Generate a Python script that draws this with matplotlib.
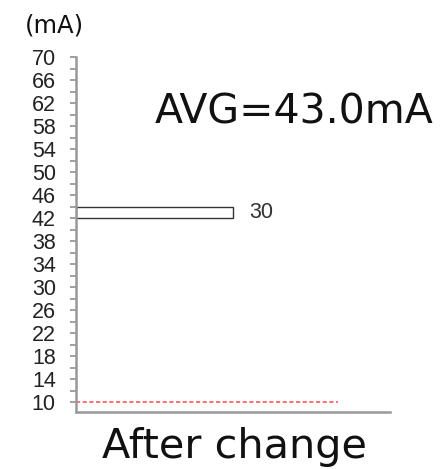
import matplotlib

matplotlib.use("Agg")

import matplotlib.pyplot as plt
from matplotlib.ticker import MultipleLocator

# histogram of current readings after the change
BIN_LOW = [42]
BIN_HIGH = [44]
COUNTS = [30]
LIMIT_MA = 10
LIMIT_SPAN = (0, 50)
AVG_TEXT = "AVG=43.0mA"
UNIT_TEXT = "(mA)"
CAPTION = "After change"

W, H = 441, 469
NARROW = ["Liberation Sans Narrow", "Liberation Sans", "DejaVu Sans"]

fig = plt.figure(figsize=(W / 100, H / 100), dpi=100)
fig.patch.set_facecolor("white")
ax = fig.add_axes([76 / W, 1 - 412 / H, (390 - 76) / W, (412 - 57) / H])

for lo, hi, n in zip(BIN_LOW, BIN_HIGH, COUNTS):
    ax.barh((lo + hi) / 2, n, height=hi - lo, left=0, facecolor="white",
            edgecolor="#333333", linewidth=1.0)
    ax.annotate(str(n), xy=(n, (lo + hi) / 2), xytext=(12, 0), textcoords="offset points",
                ha="left", va="center", fontsize=15.5, family=NARROW, color="#333333")

ax.hlines(LIMIT_MA, LIMIT_SPAN[0], LIMIT_SPAN[1], colors="#ff5a5a", linestyles=(0, (2.5, 1.5)),
          linewidth=1.2)

ax.set_xlim(0, 60)
ax.set_ylim(8.3, 70)
ax.yaxis.set_major_locator(MultipleLocator(4))
ax.yaxis.set_minor_locator(MultipleLocator(2))
ax.set_yticks(range(10, 71, 4))
ax.set_xticks([])
for lab in ax.get_yticklabels():
    lab.set_family(NARROW)
ax.tick_params(axis="y", which="both", length=4.5, width=1.3, color="#999999",
               labelsize=15.5, labelcolor="#222222", pad=10)
ax.spines[["top", "right"]].set_visible(False)
for side in ("left", "bottom"):
    ax.spines[side].set_color("#999999")
    ax.spines[side].set_linewidth(1.8)

fig.text(25 / W, 1 - 33 / H, UNIT_TEXT, fontsize=17.5, ha="left", va="baseline", color="#111111")
fig.text(155 / W, 1 - 123 / H, AVG_TEXT, fontsize=29.5, ha="left", va="baseline", color="#111111")
fig.text(102 / W, 1 - 458 / H, CAPTION, fontsize=29.8, ha="left", va="baseline", color="#111111")

fig.savefig("out.png", dpi=100)
